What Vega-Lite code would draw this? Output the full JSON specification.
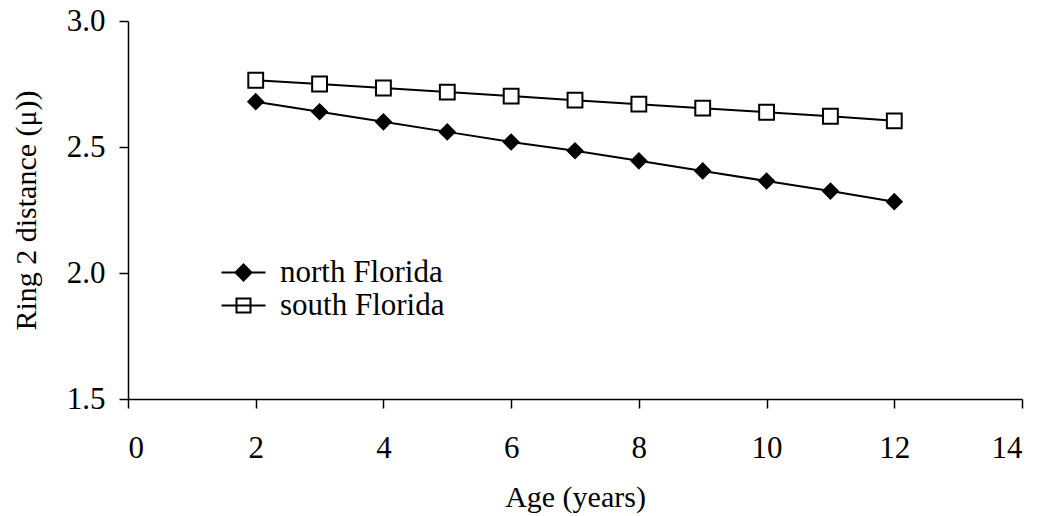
{
  "$schema": "https://vega.github.io/schema/vega-lite/v6.json",
  "width": 894,
  "height": 378,
  "autosize": {"type": "none"},
  "padding": {"left": 128, "top": 21, "right": 28, "bottom": 117},
  "background": "white",
  "config": {
    "view": {"stroke": null},
    "font": "Liberation Serif",
    "axis": {
      "domainColor": "black",
      "domainWidth": 1.5,
      "tickColor": "black",
      "tickWidth": 1.5,
      "tickSize": 9,
      "grid": false,
      "labelFont": "Liberation Serif",
      "labelFontSize": 31,
      "labelColor": "black",
      "titleFont": "Liberation Serif",
      "titleFontSize": 30,
      "titleFontWeight": "normal",
      "titleColor": "black"
    }
  },
  "data": {
    "values": [
      {"age": 2, "dist": 2.68, "region": "north Florida"},
      {"age": 3, "dist": 2.64, "region": "north Florida"},
      {"age": 4, "dist": 2.60, "region": "north Florida"},
      {"age": 5, "dist": 2.56, "region": "north Florida"},
      {"age": 6, "dist": 2.52, "region": "north Florida"},
      {"age": 7, "dist": 2.485, "region": "north Florida"},
      {"age": 8, "dist": 2.445, "region": "north Florida"},
      {"age": 9, "dist": 2.405, "region": "north Florida"},
      {"age": 10, "dist": 2.365, "region": "north Florida"},
      {"age": 11, "dist": 2.325, "region": "north Florida"},
      {"age": 12, "dist": 2.283, "region": "north Florida"},
      {"age": 2, "dist": 2.765, "region": "south Florida"},
      {"age": 3, "dist": 2.75, "region": "south Florida"},
      {"age": 4, "dist": 2.734, "region": "south Florida"},
      {"age": 5, "dist": 2.718, "region": "south Florida"},
      {"age": 6, "dist": 2.702, "region": "south Florida"},
      {"age": 7, "dist": 2.686, "region": "south Florida"},
      {"age": 8, "dist": 2.67, "region": "south Florida"},
      {"age": 9, "dist": 2.654, "region": "south Florida"},
      {"age": 10, "dist": 2.638, "region": "south Florida"},
      {"age": 11, "dist": 2.622, "region": "south Florida"},
      {"age": 12, "dist": 2.604, "region": "south Florida"}
    ]
  },
  "encoding": {
    "x": {
      "field": "age",
      "type": "quantitative",
      "scale": {"domain": [0, 14], "nice": false, "zero": false},
      "axis": {
        "title": "Age (years)",
        "values": [0, 2, 4, 6, 8, 10, 12, 14],
        "labelPadding": 25,
        "titlePadding": 19
      }
    },
    "y": {
      "field": "dist",
      "type": "quantitative",
      "scale": {"domain": [1.5, 3.0], "nice": false, "zero": false},
      "axis": {
        "title": "Ring 2 distance (μ))",
        "values": [1.5, 2.0, 2.5, 3.0],
        "format": ".1f",
        "labelPadding": 14,
        "titlePadding": 25
      }
    }
  },
  "layer": [
    {
      "mark": {"type": "line", "color": "black", "strokeWidth": 2},
      "encoding": {"detail": {"field": "region"}}
    },
    {
      "mark": {"type": "point", "opacity": 1, "stroke": "black", "strokeWidth": 2},
      "encoding": {
        "shape": {
          "field": "region",
          "type": "nominal",
          "scale": {"domain": ["north Florida", "south Florida"], "range": ["diamond", "square"]},
          "legend": null
        },
        "fill": {
          "field": "region",
          "type": "nominal",
          "scale": {"domain": ["north Florida", "south Florida"], "range": ["black", "white"]},
          "legend": null
        },
        "size": {"value": 220}
      }
    },
    {
      "mark": {"type": "point", "opacity": 1, "strokeWidth": 2},
      "encoding": {
        "shape": {
          "field": "region",
          "type": "nominal",
          "scale": {
            "domain": ["north Florida", "south Florida"],
            "range": [
              "M-2.2,0H2.2M0,-0.8L0.8,0L0,0.8L-0.8,0Z",
              "M-2.2,0H2.2M-0.7,-0.7H0.7V0.7H-0.7Z"
            ]
          },
          "legend": {
            "title": null,
            "orient": "none",
            "legendX": 100,
            "legendY": 236,
            "labelFont": "Liberation Serif",
            "labelFontSize": 31,
            "labelColor": "black",
            "labelLimit": 400,
            "labelOffset": 21,
            "rowPadding": 1,
            "symbolSize": 400,
            "symbolStrokeWidth": 2,
            "symbolOpacity": 1
          }
        },
        "fill": {
          "field": "region",
          "type": "nominal",
          "scale": {"domain": ["north Florida", "south Florida"], "range": ["black", "white"]}
        },
        "stroke": {
          "field": "region",
          "type": "nominal",
          "scale": {"domain": ["north Florida", "south Florida"], "range": ["black", "black"]}
        },
        "size": {"value": 0}
      }
    }
  ],
  "resolve": {"scale": {"shape": "independent", "fill": "independent", "stroke": "independent"}}
}
